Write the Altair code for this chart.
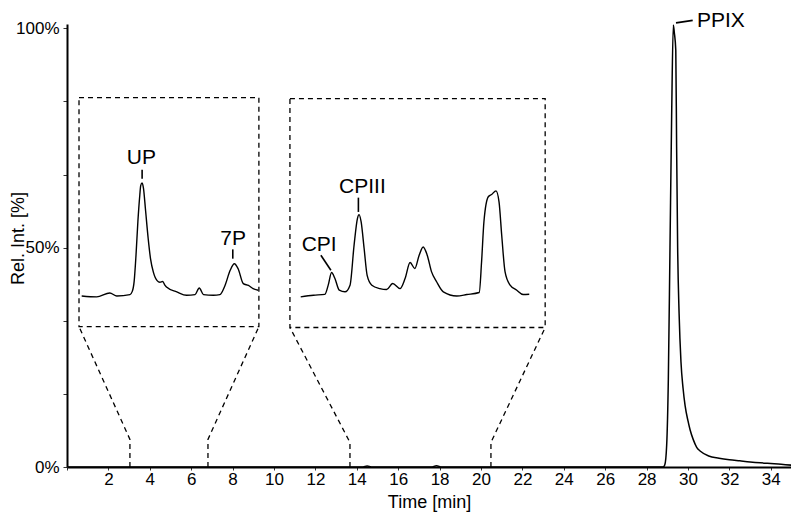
import altair as alt
import pandas as pd

# ---------------- data ----------------
# Main chromatogram: time [min] and relative intensity [%]
MAIN_T = [0, 14.3, 14.5, 14.7, 17.6, 17.85, 18.1, 28.8, 28.88, 28.97, 29.05, 29.13,
          29.21, 29.29, 29.34, 29.41, 29.45, 29.5, 29.57, 29.66, 29.76, 29.86, 30.0,
          30.1, 30.25, 30.42, 30.6, 31.0, 31.5, 32.0, 32.5, 33.0, 33.5, 34.0, 34.5, 35.3]
MAIN_Y = [0, 0, 0.2, 0, 0, 0.3, 0, 0, 0.5, 5, 20, 50,
          80, 100.8, 99, 95, 73, 50, 35, 24, 18, 14, 10.5,
          8.5, 6.3, 4.5, 3.6, 2.5, 2.0, 1.65, 1.4, 1.15, 0.95, 0.8, 0.65, 0.25]

# Inset 1 (zoom of 3.04-6.81 min): time [min], zoomed intensity [% of inset height]
INSET1_T = [3.04, 3.36, 3.64, 3.79, 4.07, 4.12, 4.16, 4.20, 4.24, 4.28, 4.30, 4.33,
            4.36, 4.40, 4.46, 4.51, 4.57, 4.65, 4.71, 4.77, 4.82, 4.85, 5.07, 5.28,
            5.46, 5.55, 5.64, 5.85, 5.99, 6.10, 6.21, 6.30, 6.38, 6.49, 6.60, 6.70, 6.81]
INSET1_I = [13.4, 13.0, 14.7, 13.4, 14.0, 15.4, 19.8, 31.4, 46.0, 57.3, 61.6, 62.8,
            60.3, 51.6, 38.4, 29.6, 23.8, 20.1, 19.4, 19.7, 18.0, 17.3, 15.2, 13.7,
            14.0, 16.9, 14.0, 13.7, 14.0, 18.0, 24.6, 27.5, 25.3, 18.8, 18.0, 16.6, 15.9]

# Inset 2 (zoom of 13.67-20.48 min)
INSET2_T = [13.67, 14.05, 14.39, 14.49, 14.59, 14.69, 14.82, 14.99, 15.14, 15.26, 15.36,
            15.41, 15.47, 15.56, 15.65, 15.79, 16.03, 16.23, 16.41, 16.63, 16.78, 16.93,
            17.07, 17.20, 17.32, 17.44, 17.57, 17.72, 17.92, 18.32, 18.62, 18.99, 19.06,
            19.13, 19.26, 19.36, 19.49, 19.58, 19.66, 19.76, 19.91, 20.11, 20.30, 20.48]
INSET2_I = [13.4, 14.1, 14.5, 18.5, 24.0, 21.4, 16.3, 15.6, 18.5, 35.9, 47.6,
            49.3, 46.2, 34.5, 22.8, 18.5, 17.0, 16.6, 19.2, 17.0, 21.4, 28.4,
            25.8, 31.6, 35.2, 31.6, 24.3, 20.0, 15.6, 13.8, 14.4, 15.3, 28.7,
            46.2, 57.1, 58.1, 59.7, 54.9, 40.3, 24.3, 18.5, 16.3, 14.4, 14.5]

ZOOM_WINDOWS = [(3.04, 6.81), (13.67, 20.48)]

PEAK_LABELS = ["UP", "7P", "CPI", "CPIII", "PPIX"]
PEAK_TIMES = [4.33, 6.30, 14.59, 15.41, 29.29]
PEAK_TRACE = [1, 1, 2, 2, 0]

# ---------------- layout ----------------
PX_X = 20.7                 # pixels per minute
W, H = 724, 443
X_MAX = W / PX_X
Y_MAX = 101
PX_Y = H / Y_MAX

# inset boxes in main-axis units (box edges and trace span)
BOXES = [dict(x0=0.58, x1=9.27, y0=32.0, y1=84.2, tx0=0.71, tx1=9.24, stub=6.3),
         dict(x0=10.77, x1=23.1, y0=31.8, y1=84.0, tx0=11.29, tx1=22.33, stub=5.6)]

# label offsets (pixels) from the peak: text centre, leader start, leader end
LABEL_LAYOUT = {
    "UP": ((-0.7, -25), (0, -4), (0, -13)),
    "7P": ((-1.3, -24.3), (-1.6, -5), (-1.6, -14.3)),
    "CPI": ((-12.4, -28), (-0.7, -2.3), (-10.7, -17.3)),
    "CPIII": ((3.3, -27.7), (-0.7, -2.7), (-0.7, -17)),
    "PPIX": ((47.5, -3.5), (2.7, -2.0), (19.4, -4.5)),
}

FONT = "Liberation Sans"


def map_inset(k, t, i):
    w0, w1 = ZOOM_WINDOWS[k]
    b = BOXES[k]
    x = b["tx0"] + (t - w0) / (w1 - w0) * (b["tx1"] - b["tx0"])
    y = b["y0"] + i / 100 * (b["y1"] - b["y0"])
    return x, y


main_df = pd.DataFrame({"t": MAIN_T, "y": MAIN_Y})

rows = []
for k, (ts, Is) in enumerate([(INSET1_T, INSET1_I), (INSET2_T, INSET2_I)]):
    for j, (t, i) in enumerate(zip(ts, Is)):
        x, y = map_inset(k, t, i)
        rows.append({"inset": k, "o": j, "t": x, "y": y})
inset_df = pd.DataFrame(rows)

box_df = pd.DataFrame([{"t": b["x0"], "t2": b["x1"], "y": b["y0"], "y2": b["y1"]} for b in BOXES])

con_rows = []
for k, (w0, w1) in enumerate(ZOOM_WINDOWS):
    b = BOXES[k]
    for side, (wt, bx) in enumerate([(w0, b["x0"]), (w1, b["x1"])]):
        cid = f"{k}-{side}"
        con_rows += [{"cid": cid, "o": 0, "t": wt, "y": 0},
                     {"cid": cid, "o": 1, "t": wt, "y": b["stub"]},
                     {"cid": cid, "o": 2, "t": bx, "y": b["y0"]}]
con_df = pd.DataFrame(con_rows)

lab_rows = []
for lab, pt, tr in zip(PEAK_LABELS, PEAK_TIMES, PEAK_TRACE):
    if tr == 0:
        px, py = pt, MAIN_Y[MAIN_T.index(pt)]
    elif tr == 1:
        px, py = map_inset(0, pt, INSET1_I[INSET1_T.index(pt)])
    else:
        px, py = map_inset(1, pt, INSET2_I[INSET2_T.index(pt)])
    (tx, ty), (ax, ay), (bx, by) = LABEL_LAYOUT[lab]
    lab_rows.append({
        "label": lab,
        "t": px + tx / PX_X, "y": py - ty / PX_Y,
        "lt": px + ax / PX_X, "ly": py - ay / PX_Y,
        "lt2": px + bx / PX_X, "ly2": py - by / PX_Y,
    })
lab_df = pd.DataFrame(lab_rows)

xscale = alt.Scale(domain=[0, X_MAX], nice=False, zero=False)
yscale = alt.Scale(domain=[0, Y_MAX], nice=False, zero=False)

x_axis = alt.Axis(
    values=list(range(0, 35)),
    labelExpr="datum.value > 0 && datum.value % 2 == 0 ? datum.value : ''",
    title="Time [min]", tickSize=3, labelPadding=1,
    titleY=35, titleBaseline="middle",
)
y_axis = alt.Axis(
    values=[i * 50 / 12 for i in range(25)],
    labelExpr="(abs(datum.value) < 0.01 || abs(datum.value - 50) < 0.01 || abs(datum.value - 100) < 0.01) ? round(datum.value) + '%' : ''",
    title="Rel. Int. [%]", tickSize=4, labelPadding=4,
    titleX=-49, titleY=214, titleAngle=270, titleAlign="center", titleBaseline="middle",
)

main = alt.Chart(main_df).mark_line(color="black", strokeWidth=1.5, interpolate="monotone", clip=True).encode(
    x=alt.X("t:Q", scale=xscale, axis=x_axis),
    y=alt.Y("y:Q", scale=yscale, axis=y_axis),
)

insets = alt.Chart(inset_df).mark_line(color="black", strokeWidth=1.4, interpolate="monotone").encode(
    x=alt.X("t:Q", scale=xscale), y=alt.Y("y:Q", scale=yscale),
    detail="inset:N", order="o:Q",
)

boxes = alt.Chart(box_df).mark_rect(filled=False, stroke="black", strokeWidth=1.3, strokeDash=[5, 4]).encode(
    x=alt.X("t:Q", scale=xscale), x2="t2:Q",
    y=alt.Y("y:Q", scale=yscale), y2="y2:Q",
)

connectors = alt.Chart(con_df).mark_line(color="black", strokeWidth=1.3, strokeDash=[5, 4]).encode(
    x=alt.X("t:Q", scale=xscale), y=alt.Y("y:Q", scale=yscale),
    detail="cid:N", order="o:Q",
)

leaders = alt.Chart(lab_df).mark_rule(color="black", strokeWidth=1.6).encode(
    x=alt.X("lt:Q", scale=xscale), x2="lt2:Q",
    y=alt.Y("ly:Q", scale=yscale), y2="ly2:Q",
)

labels = alt.Chart(lab_df).mark_text(font=FONT, fontSize=21, color="black",
                                     align="center", baseline="middle").encode(
    x=alt.X("t:Q", scale=xscale), y=alt.Y("y:Q", scale=yscale), text="label:N",
)

chart = alt.layer(connectors, boxes, main, insets, leaders, labels).properties(
    width=W, height=H,
    autosize=alt.AutoSizeParams(type="none"),
    padding={"left": 59, "top": 16, "right": 0, "bottom": 46},
).configure_axis(
    domainColor="black", domainWidth=2, tickColor="#333", tickWidth=1,
    labelFont=FONT, labelFontSize=17, labelColor="black",
    titleFont=FONT, titleFontSize=18, titleFontWeight="normal", titleColor="black",
    grid=False,
).configure_view(stroke=None)

chart.save("out.html", embed_options={"renderer": "svg", "actions": False})
